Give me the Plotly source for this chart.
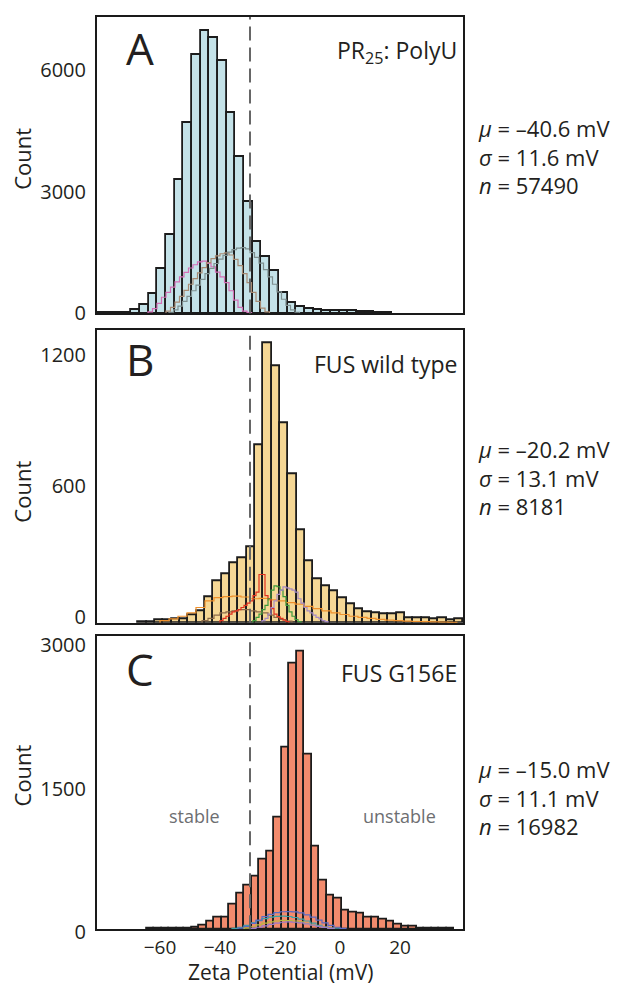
import plotly.graph_objects as go

# ---------------- data ----------------
x_ticks = [-60, -40, -20, 0, 20]
threshold_mv = -30

# Panel A: PR25 : PolyU
a_bin_start = -81.08
a_bin_width = 2.89
a_counts = [3, 5, 10, 20, 90, 200, 482, 1100, 1928, 3277, 4699, 6370, 6950, 6790,
            6225, 4940, 3855, 2755, 1767, 1381, 1044, 506, 265, 169, 110, 80, 70,
            60, 70, 55, 40, 30, 15, 8]
a_sub_start = [-64.0, -58.0, -57.0]
a_sub_width = [1.5, 1.5, 1.5]
a_sub_counts = [
    [40, 120, 250, 400, 520, 650, 780, 900, 1010, 1120, 1200, 1270, 1290, 1230,
     1150, 1020, 900, 760, 560, 330, 150, 60, 20],
    [60, 150, 280, 420, 570, 720, 860, 1000, 1130, 1250, 1350, 1420, 1470, 1490,
     1440, 1330, 1180, 980, 760, 520, 300, 130, 40],
    [30, 90, 180, 300, 420, 560, 700, 840, 980, 1110, 1230, 1340, 1430, 1510,
     1570, 1610, 1620, 1590, 1500, 1380, 1240, 1080, 900, 720, 530, 350, 200, 90, 30],
]
a_sub_colors = ["#d36fb6", "#a88a72", "#7f9090"]
a_ticks = [0, 3000, 6000]
a_range = [0, 7300]
a_label = "PR<sub>25</sub>: PolyU"
a_stats = ["–40.6", "11.6", "57490"]

# Panel B: FUS wild type
b_bin_start = -67.27
b_bin_width = 2.78
b_counts = [3, 5, 10, 12, 15, 19, 34, 52, 117, 190, 225, 275, 295, 345, 814,
            1282, 1173, 913, 680, 423, 284, 199, 169, 147, 112, 84, 64, 49, 46,
            39, 39, 46, 22, 20, 20, 15, 22, 12, 15]
b_sub_start = [-46.0, -60.0, -40.0, -29.0, -26.0]
b_sub_width = [2.0, 3.0, 1.0, 1.0, 1.0]
b_sub_counts = [
    [10, 20, 35, 45, 50, 55, 60, 60, 55, 50, 45, 35, 25, 15, 8],
    [10, 18, 30, 45, 70, 100, 115, 120, 122, 118, 110, 112, 105, 100, 92, 85, 75,
     65, 55, 45, 38, 30, 25, 20, 16, 12, 10, 8, 6, 5, 4, 3, 2],
    [10, 20, 30, 40, 50, 55, 60, 70, 80, 90, 100, 124, 140, 221, 221, 124, 110,
     65, 40, 28, 20, 12, 5],
    [10, 25, 40, 60, 80, 110, 150, 169, 165, 150, 120, 80, 50, 30, 15, 5],
    [10, 20, 40, 70, 100, 130, 150, 164, 160, 155, 150, 140, 110, 90, 70, 55,
     45, 35, 25, 18, 10, 5],
]
b_sub_colors = ["#8a6a4a", "#f0912c", "#e0301e", "#3c9a3c", "#a58ac4"]
b_ticks = [0, 600, 1200]
b_range = [0, 1340]
b_label = "FUS wild type"
b_stats = ["–20.2", "13.1", "8181"]

# Panel C: FUS G156E
c_bin_start = -64.43
c_bin_width = 2.5
c_counts = [3, 5, 5, 10, 8, 10, 16, 41, 75, 126, 126, 263, 376, 457, 546, 724,
            809, 1167, 1900, 2777, 2907, 1822, 867, 509, 355, 320, 194, 177, 160,
            126, 126, 102, 82, 51, 31, 24, 10, 10, 8, 10, 5]
c_sub_start = [-36.0, -34.0, -32.0, -30.0]
c_sub_width = [2.0, 2.0, 2.0, 2.0]
c_sub_counts = [
    [8, 20, 40, 65, 90, 110, 125, 133, 136, 132, 122, 105, 85, 62, 40, 22, 10, 4],
    [10, 30, 60, 95, 130, 155, 172, 182, 184, 180, 170, 150, 125, 95, 65, 40, 20, 8],
    [10, 25, 45, 62, 75, 85, 92, 90, 85, 75, 60, 45, 30, 18, 8],
    [8, 20, 35, 50, 62, 72, 75, 72, 65, 55, 42, 30, 18, 8],
]
c_sub_colors = ["#3aa3a8", "#5b6cc4", "#b9b840", "#9a7ac8"]
c_ticks = [0, 1500, 3000]
c_range = [0, 3060]
c_label = "FUS G156E"
c_stats = ["–15.0", "11.1", "16982"]

panel_letters = ["A", "B", "C"]
bar_colors = ["#c4e2e8", "#f5d795", "#f28b6d"]

# ---------------- figure ----------------
# the page body adds an 8px margin at top/left; the figure fills the rest of the window
OFF = 8
W, H = 631 - OFF, 998 - OFF
FONT = "Open Sans"
TXT = "#231f20"


def px_x(x):
    return (x - OFF) / W


def px_y(y):
    return 1 - (y - OFF) / H


x_dom = [px_x(97), px_x(463)]
panels_px = [(12, 315), (332, 631), (645, 944)]  # top, bottom in window px
y_doms = [[px_y(b), px_y(t)] for t, b in panels_px]

fig = go.Figure()

panels = [
    (a_bin_start, a_bin_width, a_counts, a_sub_start, a_sub_width, a_sub_counts, a_sub_colors),
    (b_bin_start, b_bin_width, b_counts, b_sub_start, b_sub_width, b_sub_counts, b_sub_colors),
    (c_bin_start, c_bin_width, c_counts, c_sub_start, c_sub_width, c_sub_counts, c_sub_colors),
]

for p, (bs, bw, counts, ss, sw, sc, scol) in enumerate(panels):
    xa = "x" if p == 0 else f"x{p + 1}"
    ya = "y" if p == 0 else f"y{p + 1}"
    centers = [bs + (i + 0.5) * bw for i in range(len(counts))]
    fig.add_trace(go.Bar(
        x=centers, y=counts, width=[bw] * len(counts),
        marker=dict(color=bar_colors[p], line=dict(color="#1c1c1c", width=1.8)),
        xaxis=xa, yaxis=ya, showlegend=False, hoverinfo="skip"))
    for s, w, vals, col in zip(ss, sw, sc, scol):
        edges = [s + i * w for i in range(len(vals) + 1)]
        xs = [edges[0]] + edges[:-1] + [edges[-1]]
        ys = [0] + list(vals) + [0]
        fig.add_trace(go.Scatter(
            x=xs, y=ys, mode="lines", line=dict(color=col, width=1.2, shape="hv"),
            xaxis=xa, yaxis=ya, showlegend=False, hoverinfo="skip"))

layout = dict(
    width=W, height=H, margin=dict(l=0, r=0, t=0, b=0),
    paper_bgcolor="white", plot_bgcolor="white",
    font=dict(family=FONT, size=22, color=TXT),
    bargap=0, barmode="overlay",
)
ranges = [a_range, b_range, c_range]
ticks = [a_ticks, b_ticks, c_ticks]
label_shift = [0, -6, 3]
for p in range(3):
    xk = "xaxis" if p == 0 else f"xaxis{p + 1}"
    yk = "yaxis" if p == 0 else f"yaxis{p + 1}"
    ya = "y" if p == 0 else f"y{p + 1}"
    xa = "x" if p == 0 else f"x{p + 1}"
    layout[xk] = dict(
        domain=x_dom, anchor=ya, range=[-81, 41], showgrid=False, zeroline=False,
        showline=True, mirror=True, linecolor="#1a1a1a", linewidth=2,
        tickvals=x_ticks, showticklabels=(p == 2), ticks="",
        tickfont=dict(size=19, color=TXT),
    )
    layout[yk] = dict(
        domain=y_doms[p], anchor=xa, range=ranges[p], showgrid=False, zeroline=False,
        showline=True, mirror=True, linecolor="#1a1a1a", linewidth=2,
        tickvals=ticks[p], ticks="", tickfont=dict(size=20, color=TXT),
        ticklabelstandoff=5, ticklabelshift=label_shift[p],
    )
fig.update_layout(**layout)

# dashed threshold line
for p in range(3):
    xa = "x" if p == 0 else f"x{p + 1}"
    ya = "y" if p == 0 else f"y{p + 1}"
    fig.add_shape(type="line", xref=xa, yref=f"{ya} domain", x0=threshold_mv,
                  x1=threshold_mv, y0=0, y1=1,
                  line=dict(color="#666666", width=2, dash="14px,7px"))

# annotations
labels = [a_label, b_label, c_label]
stats = [a_stats, b_stats, c_stats]
letter_y = [44, 362, 678]
label_y = [47, 367, 682]
count_y = [157, 497, 787]
stats_y = [155, 483, 809]
for p in range(3):
    fig.add_annotation(text=panel_letters[p], x=px_x(124), y=px_y(letter_y[p]),
                       xref="paper", yref="paper", xanchor="left", yanchor="middle",
                       showarrow=False, font=dict(size=44, color=TXT))
    fig.add_annotation(text=labels[p], x=px_x(459), y=px_y(label_y[p]),
                       xref="paper", yref="paper", xanchor="right", yanchor="middle",
                       showarrow=False, font=dict(size=23, color=TXT))
    fig.add_annotation(text="Count", x=px_x(22), y=px_y(count_y[p]), textangle=-90,
                       xref="paper", yref="paper", xanchor="center", yanchor="middle",
                       showarrow=False, font=dict(size=22, color=TXT))
    mu, sd, n = stats[p]
    fig.add_annotation(
        text=f"<i>μ</i> = {mu} mV<br><i>σ</i> = {sd} mV<br><i>n</i> = {n}",
        x=px_x(476), y=px_y(stats_y[p]), xref="paper", yref="paper",
        xanchor="left", yanchor="middle", align="left", showarrow=False,
        font=dict(size=22, color=TXT))

fig.add_annotation(text="stable", x=px_x(167), y=px_y(843), xref="paper", yref="paper",
                   showarrow=False, font=dict(size=18, color="#6d6e71"))
fig.add_annotation(text="unstable", x=px_x(399), y=px_y(843), xref="paper", yref="paper",
                   showarrow=False, font=dict(size=18, color="#6d6e71"))
fig.add_annotation(text="Zeta Potential (mV)", x=px_x(280), y=px_y(988),
                   xref="paper", yref="paper", yanchor="middle", showarrow=False,
                   font=dict(size=21, color=TXT))

fig.write_html("out.html")
